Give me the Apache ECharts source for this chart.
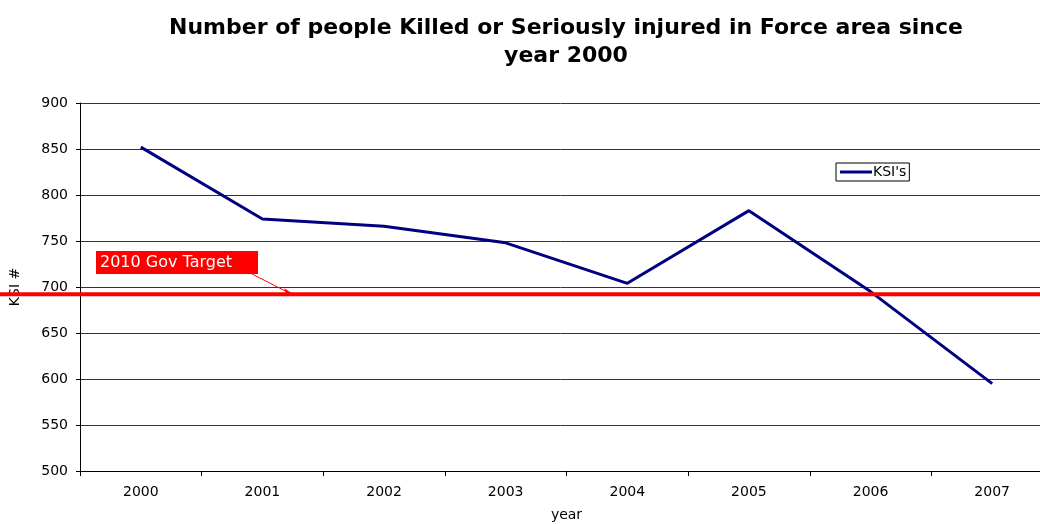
<!DOCTYPE html>
<html><head><meta charset="utf-8">
<script src="https://cdn.jsdelivr.net/npm/echarts@6/dist/echarts.min.js"></script>
<style>html,body{margin:0;padding:0;background:#fff;overflow:hidden}#c{width:1040px;height:524px}</style>
</head><body><div id="c"></div>
<script>
const categories = ['2000','2001','2002','2003','2004','2005','2006','2007'];
const ksiValues = [852, 774, 766, 748, 704, 783, 695, 595];
const targetValue = 692;
const yTicks = {min: 500, max: 900, interval: 50};

const chart = echarts.init(document.getElementById('c'));
const F = 'DejaVu Sans, Liberation Sans, Arial, sans-serif';
chart.setOption({
  animation: false,
  title: {
    text: 'Number of people Killed or Seriously injured in Force area since\nyear 2000',
    left: 561, top: 9, textAlign: 'center',
    textStyle: {fontFamily: F, fontSize: 22, fontWeight: 'bold', color: '#000', lineHeight: 28}
  },
  legend: {
    data: ["KSI's"], left: 836, top: 163, orient: 'vertical',
    borderColor: '#000', borderWidth: 1, padding: [2, 3, 2, 4],
    itemWidth: 32, itemHeight: 3, itemGap: 0, icon: 'rect',
    textStyle: {fontFamily: F, fontSize: 14, color: '#000', padding: [0, 0, 0, -4]}
  },
  grid: {left: 80, right: -13, top: 103, bottom: 53, containLabel: false, outerBoundsMode: 'none'},
  xAxis: {
    type: 'category', data: categories, boundaryGap: true,
    name: 'year', nameLocation: 'middle', nameGap: 37,
    nameTextStyle: {fontFamily: F, fontSize: 14, color: '#000'},
    axisLine: {lineStyle: {color: '#000', width: 1}},
    axisTick: {show: true, length: 5, lineStyle: {color: '#000'}},
    axisLabel: {fontFamily: F, fontSize: 14, color: '#000', margin: 14},
    splitLine: {show: false}
  },
  yAxis: {
    type: 'value', min: yTicks.min, max: yTicks.max, interval: yTicks.interval,
    name: 'KSI #', nameLocation: 'middle', nameGap: 58, nameRotate: 90,
    nameTextStyle: {fontFamily: F, fontSize: 14, color: '#000'},
    axisLine: {show: true, lineStyle: {color: '#000', width: 1}},
    axisTick: {show: true, length: 4, lineStyle: {color: '#000'}},
    axisLabel: {fontFamily: F, fontSize: 14, color: '#000', margin: 12},
    splitLine: {show: true, lineStyle: {color: '#333', width: 1}}
  },
  series: [{
    name: "KSI's", type: 'line', data: ksiValues,
    symbol: 'none', lineStyle: {color: '#000080', width: 3},
    itemStyle: {color: '#000080'}
  }]
});

const ty = chart.convertToPixel({yAxisIndex: 0}, targetValue);
chart.setOption({
  graphic: [
    {type: 'line', z: 100, shape: {x1: 0, y1: ty, x2: 1040, y2: ty},
     style: {stroke: '#ff0000', lineWidth: 4}},
    {type: 'rect', z: 101, shape: {x: 96, y: 251, width: 162, height: 23},
     style: {fill: '#ff0000'}},
    {type: 'text', z: 102, x: 100, y: 262.5,
     style: {text: '2010 Gov Target', fill: '#fff', font: '16px ' + F, verticalAlign: 'middle'}},
    {type: 'line', z: 101, shape: {x1: 252, y1: 274, x2: 290, y2: ty - 1},
     style: {stroke: '#ff0000', lineWidth: 1}},
    {type: 'polygon', z: 101, shape: {points: [[292, ty - 1], [284, ty - 6], [286, ty - 1]]},
     style: {fill: '#ff0000'}}
  ]
});
</script></body></html>
